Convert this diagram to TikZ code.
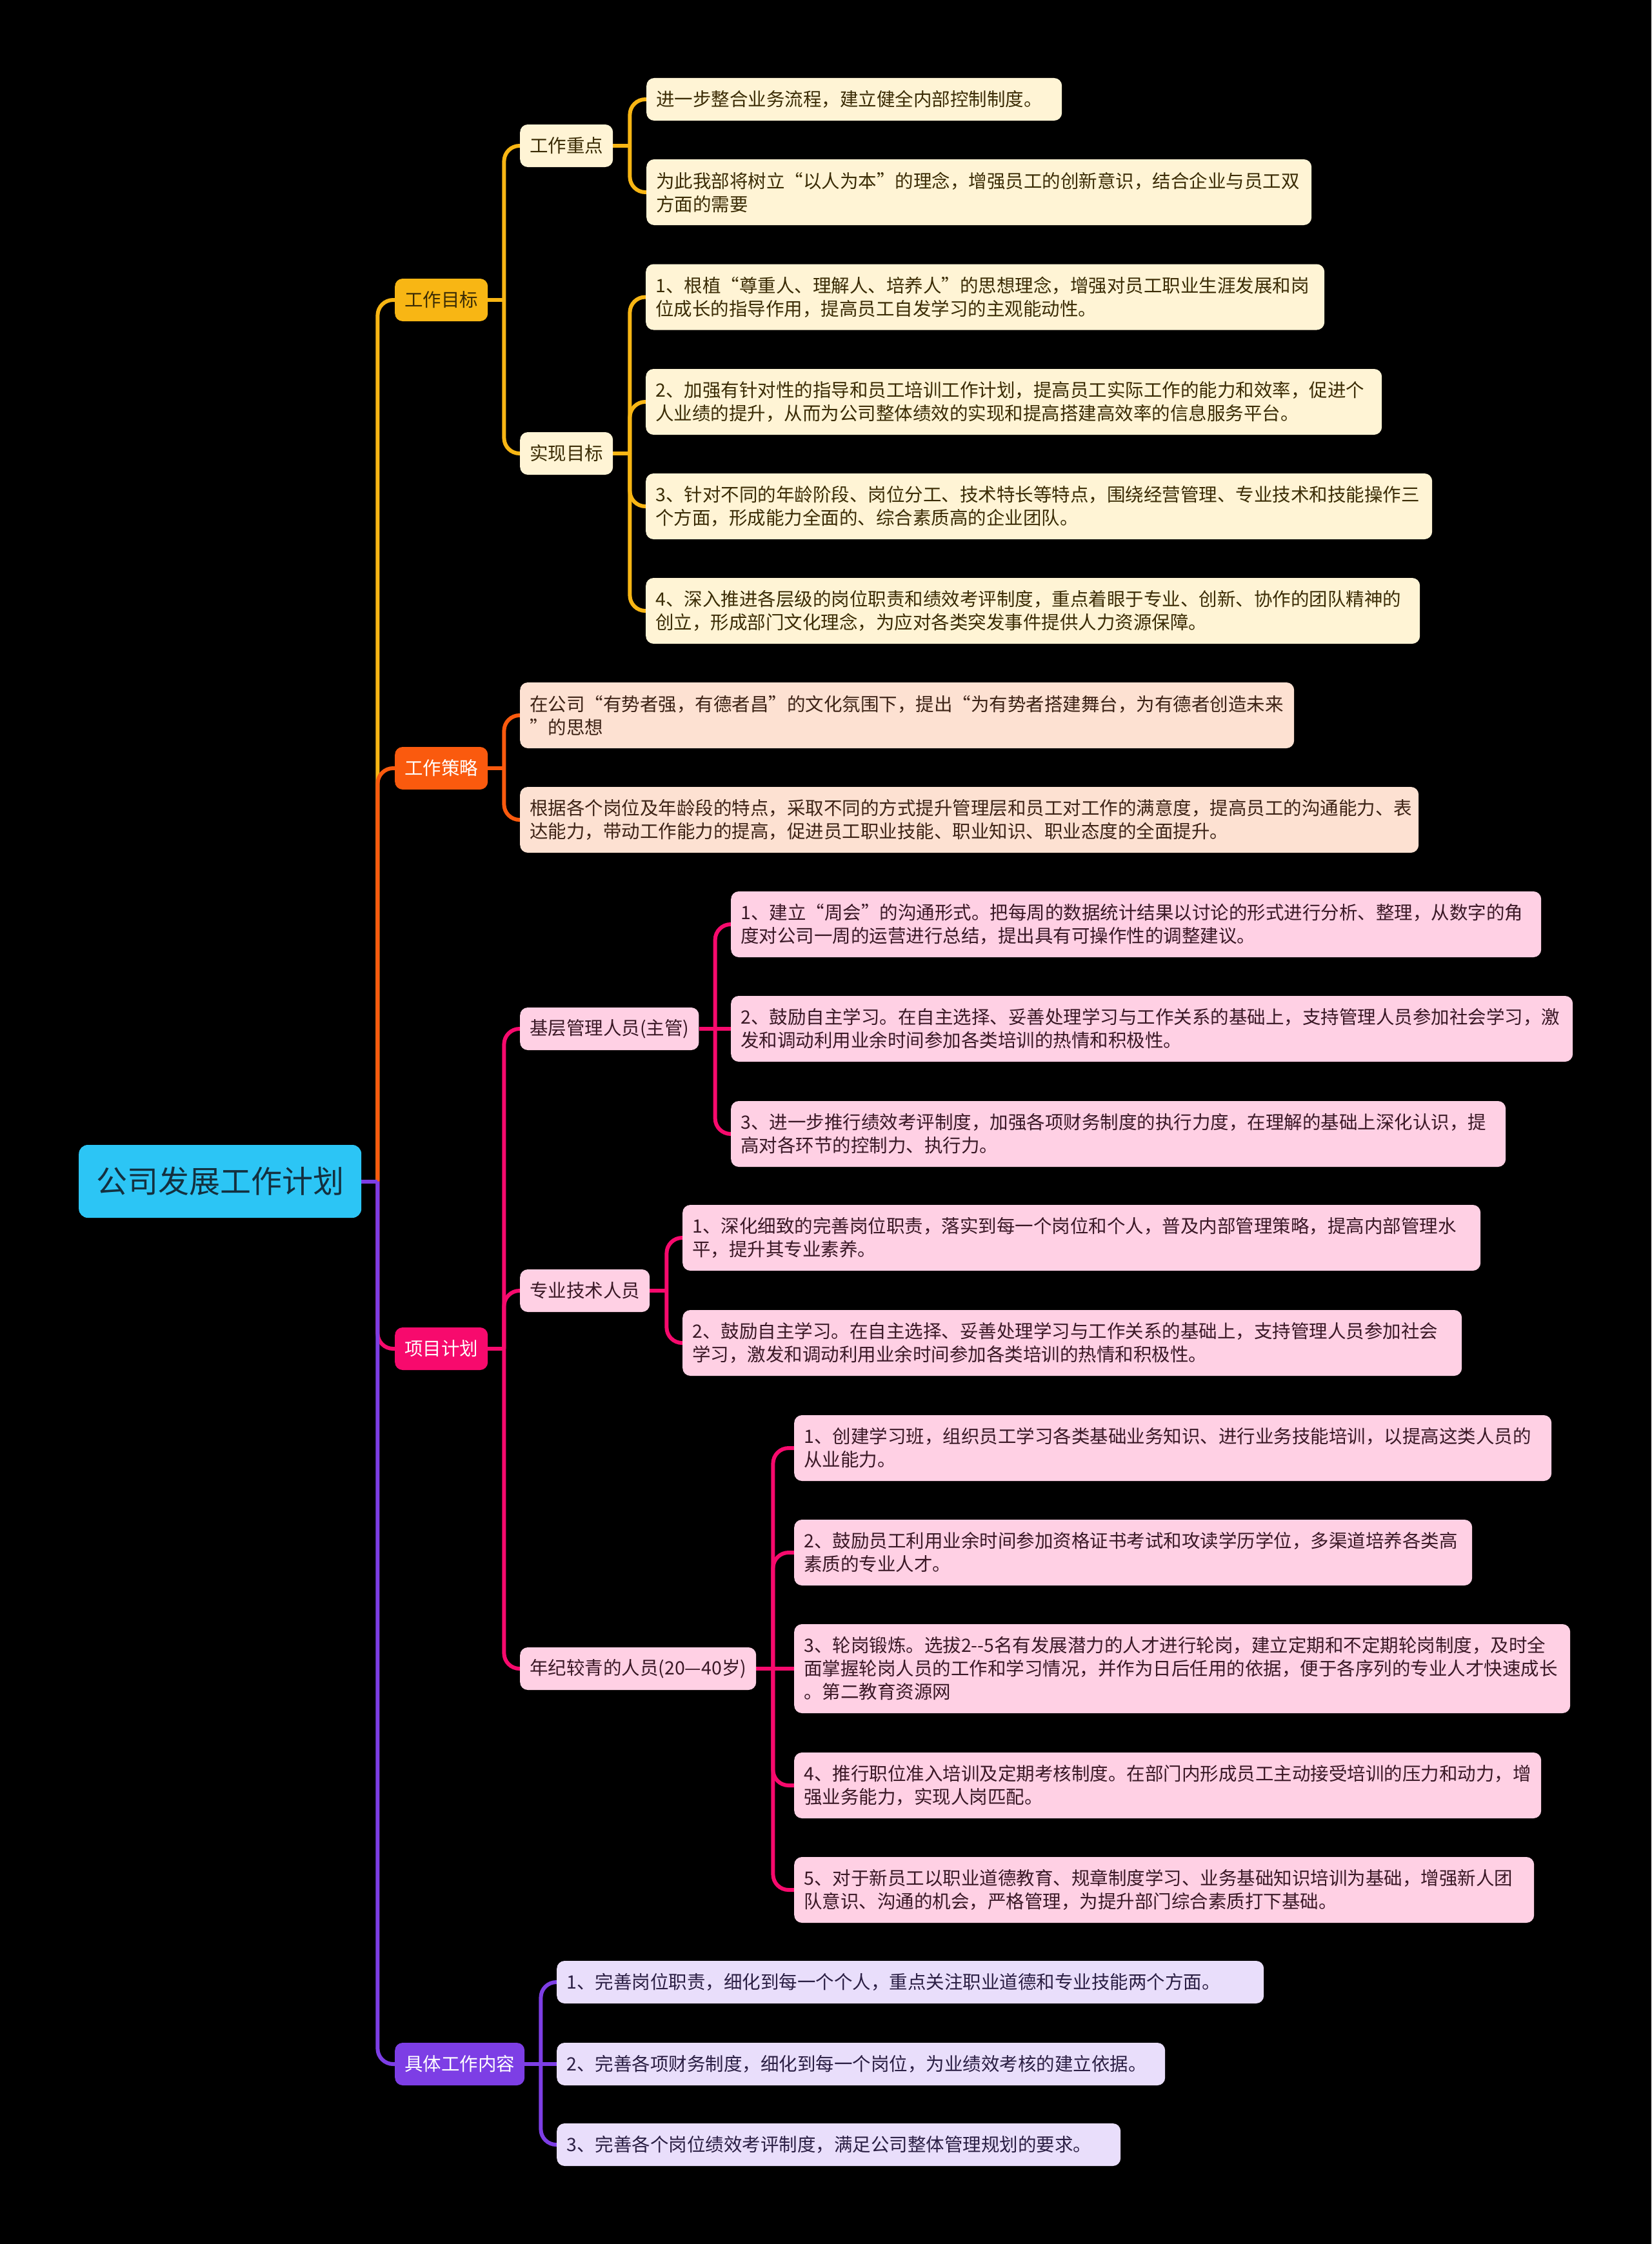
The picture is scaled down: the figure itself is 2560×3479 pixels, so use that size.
\documentclass[tikz,border=0pt]{standalone}
\usepackage{fontspec}
\newfontfamily\cjk{Noto Sans CJK SC}
\usetikzlibrary{backgrounds}
\definecolor{cyanR}{HTML}{2CC5F5}
\definecolor{rootT}{HTML}{14303F}
\definecolor{yel}{HTML}{F8B614}
\definecolor{yelL}{HTML}{FFF4D5}
\definecolor{yelT}{HTML}{3B2C05}
\definecolor{ora}{HTML}{FA5A0E}
\definecolor{oraL}{HTML}{FDE1D2}
\definecolor{oraT}{HTML}{3D2316}
\definecolor{pnk}{HTML}{F70A6D}
\definecolor{pnkL}{HTML}{FFD0E4}
\definecolor{pnkT}{HTML}{3A1826}
\definecolor{pur}{HTML}{7D3EE5}
\definecolor{purL}{HTML}{E9DEFB}
\definecolor{purT}{HTML}{2B1F44}
\begin{document}
\begin{tikzpicture}[x=1pt,y=-1pt,
  base/.style={rounded corners=12pt, inner xsep=15pt, inner ysep=0pt, anchor=west,
    font=\cjk\fontsize{28.5}{36}\selectfont},
  lone/.style={base, minimum height=66pt},
  leaf/.style={base, align=left, text width=#1},
  h1/.style={minimum height=66pt},
  h2/.style={minimum height=102pt},
  h3/.style={minimum height=138pt},
  rootbox/.style={anchor=west, fill=cyanR, text=rootT, rounded corners=14pt,
    minimum width=438pt, minimum height=113pt, inner sep=0pt,
    font=\cjk\fontsize{48}{56}\selectfont},
  yb/.style={fill=yelL, text=yelT},
  ob/.style={fill=oraL, text=oraT},
  pb/.style={fill=pnkL, text=pnkT},
  ub/.style={fill=purL, text=purT},
  ln/.style={line width=6pt, rounded corners=24pt}
]
\useasboundingbox (0,0) rectangle (2560,3479);

% root
\node[rootbox] (root) at (122,1831.5) {公司发展工作计划};

% level 1
\node[lone, fill=yel, text=yelT] (n1) at (612,465) {工作目标};
\node[lone, fill=ora, text=white] (n2) at (612,1191) {工作策略};
\node[lone, fill=pnk, text=white] (n3) at (612,2091) {项目计划};
\node[lone, fill=pur, text=white] (n4) at (612,3200) {具体工作内容};

% level 2
\node[lone, yb] (m1) at (806,226) {工作重点};
\node[lone, yb] (m2) at (806,703) {实现目标};
\node[lone, pb] (m3) at (806,1595) {基层管理人员(主管)};
\node[lone, pb] (m4) at (806,2001) {专业技术人员};
\node[lone, pb] (m5) at (806,2587) {年纪较青的人员(20—40岁)};

% 工作重点
\node[leaf=614pt, yb, h1] (A1) at (1002,154) {进一步整合业务流程，建立健全内部控制制度。};
\node[leaf=1001pt, yb, h2] (A2) at (1002,298) {为此我部将树立“以人为本”的理念，增强员工的创新意识，结合企业与员工双\\方面的需要};
% 实现目标
\node[leaf=1022pt, yb, h2] (B1) at (1001,460.5) {1、根植“尊重人、理解人、培养人”的思想理念，增强对员工职业生涯发展和岗\\位成长的指导作用，提高员工自发学习的主观能动性。};
\node[leaf=1111pt, yb, h2] (B2) at (1001,623) {2、加强有针对性的指导和员工培训工作计划，提高员工实际工作的能力和效率，促进个\\人业绩的提升，从而为公司整体绩效的实现和提高搭建高效率的信息服务平台。};
\node[leaf=1189pt, yb, h2] (B3) at (1001,785) {3、针对不同的年龄阶段、岗位分工、技术特长等特点，围绕经营管理、专业技术和技能操作三\\个方面，形成能力全面的、综合素质高的企业团队。};
\node[leaf=1170pt, yb, h2] (B4) at (1001,947) {4、深入推进各层级的岗位职责和绩效考评制度，重点着眼于专业、创新、协作的团队精神的\\创立，形成部门文化理念，为应对各类突发事件提供人力资源保障。};

% 工作策略
\node[leaf=1170pt, ob, h2] (C1) at (806,1109) {在公司“有势者强，有德者昌”的文化氛围下，提出“为有势者搭建舞台，为有德者创造未来\\”的思想};
\node[leaf=1363pt, ob, h2] (C2) at (806,1271) {根据各个岗位及年龄段的特点，采取不同的方式提升管理层和员工对工作的满意度，提高员工的沟通能力、表\\达能力，带动工作能力的提高，促进员工职业技能、职业知识、职业态度的全面提升。};

% 基层管理人员
\node[leaf=1226pt, pb, h2] (D1) at (1133,1433) {1、建立“周会”的沟通形式。把每周的数据统计结果以讨论的形式进行分析、整理，从数字的角\\度对公司一周的运营进行总结，提出具有可操作性的调整建议。};
\node[leaf=1275pt, pb, h2] (D2) at (1133,1595) {2、鼓励自主学习。在自主选择、妥善处理学习与工作关系的基础上，支持管理人员参加社会学习，激\\发和调动利用业余时间参加各类培训的热情和积极性。};
\node[leaf=1171pt, pb, h2] (D3) at (1133,1758) {3、进一步推行绩效考评制度，加强各项财务制度的执行力度，在理解的基础上深化认识，提\\高对各环节的控制力、执行力。};

% 专业技术人员
\node[leaf=1207pt, pb, h2] (E1) at (1058,1919) {1、深化细致的完善岗位职责，落实到每一个岗位和个人，普及内部管理策略，提高内部管理水\\平，提升其专业素养。};
\node[leaf=1178pt, pb, h2] (E2) at (1058,2082) {2、鼓励自主学习。在自主选择、妥善处理学习与工作关系的基础上，支持管理人员参加社会\\学习，激发和调动利用业余时间参加各类培训的热情和积极性。};

% 年纪较青的人员
\node[leaf=1144pt, pb, h2] (F1) at (1231,2245) {1、创建学习班，组织员工学习各类基础业务知识、进行业务技能培训，以提高这类人员的\\从业能力。};
\node[leaf=1021pt, pb, h2] (F2) at (1231,2407) {2、鼓励员工利用业余时间参加资格证书考试和攻读学历学位，多渠道培养各类高\\素质的专业人才。};
\node[leaf=1173pt, pb, h3] (F3) at (1231,2587) {3、轮岗锻炼。选拔2-{}-5名有发展潜力的人才进行轮岗，建立定期和不定期轮岗制度，及时全\\面掌握轮岗人员的工作和学习情况，并作为日后任用的依据，便于各序列的专业人才快速成长\\。第二教育资源网};
\node[leaf=1128pt, pb, h2] (F4) at (1231,2768) {4、推行职位准入培训及定期考核制度。在部门内形成员工主动接受培训的压力和动力，增\\强业务能力，实现人岗匹配。};
\node[leaf=1117pt, pb, h2] (F5) at (1231,2930) {5、对于新员工以职业道德教育、规章制度学习、业务基础知识培训为基础，增强新人团\\队意识、沟通的机会，严格管理，为提升部门综合素质打下基础。};

% 具体工作内容
\node[leaf=1066pt, ub, h1] (G1) at (863,3073) {1、完善岗位职责，细化到每一个个人，重点关注职业道德和专业技能两个方面。};
\node[leaf=913pt, ub, h1] (G2) at (863,3200) {2、完善各项财务制度，细化到每一个岗位，为业绩效考核的建立依据。};
\node[leaf=844pt, ub, h1] (G3) at (863,3325) {3、完善各个岗位绩效考评制度，满足公司整体管理规划的要求。};

% trunk points
\coordinate (t0) at ([xshift=25pt]root.east);
\coordinate (t1) at ([xshift=25pt]n1.east);
\coordinate (t2) at ([xshift=25pt]n2.east);
\coordinate (t3) at ([xshift=25pt]n3.east);
\coordinate (t4) at ([xshift=25pt]n4.east);
\coordinate (t11) at ([xshift=26pt]m1.east);
\coordinate (t12) at ([xshift=26pt]m2.east);
\coordinate (t31) at ([xshift=25pt]m3.east);
\coordinate (t32) at ([xshift=26pt]m4.east);
\coordinate (t33) at ([xshift=26pt]m5.east);

\begin{scope}[on background layer]
\fill[black] (0,0) rectangle (2560,3479);
% level 1
\draw[ln, yel] (t0) |- (n1.west);
\draw[ln, ora] (t0) |- (n2.west);
\draw[ln, pnk] (t0) |- (n3.west);
\draw[ln, pur] (t0) |- (n4.west);
\draw[ln, pur] (root.east) -- (t0);
% 工作目标
\draw[ln, yel] (n1.east) -- (t1);
\draw[ln, yel] (t1) |- (m1.west);
\draw[ln, yel] (t1) |- (m2.west);
\draw[ln, yel] (m1.east) -- (t11);
\draw[ln, yel] (t11) |- (A1.west);
\draw[ln, yel] (t11) |- (A2.west);
\draw[ln, yel] (m2.east) -- (t12);
\draw[ln, yel] (t12) |- (B1.west);
\draw[ln, yel] (t12) |- (B2.west);
\draw[ln, yel] (t12) |- (B3.west);
\draw[ln, yel] (t12) |- (B4.west);
% 工作策略
\draw[ln, ora] (n2.east) -- (t2);
\draw[ln, ora] (t2) |- (C1.west);
\draw[ln, ora] (t2) |- (C2.west);
% 项目计划
\draw[ln, pnk] (n3.east) -- (t3);
\draw[ln, pnk] (t3) |- (m3.west);
\draw[ln, pnk] (t3) |- (m4.west);
\draw[ln, pnk] (t3) |- (m5.west);
\draw[ln, pnk] (m3.east) -- (D2.west);
\draw[ln, pnk] (t31) |- (D1.west);
\draw[ln, pnk] (t31) |- (D3.west);
\draw[ln, pnk] (m4.east) -- (t32);
\draw[ln, pnk] (t32) |- (E1.west);
\draw[ln, pnk] (t32) |- (E2.west);
\draw[ln, pnk] (m5.east) -- (F3.west);
\draw[ln, pnk] (t33) |- (F1.west);
\draw[ln, pnk] (t33) |- (F2.west);
\draw[ln, pnk] (t33) |- (F4.west);
\draw[ln, pnk] (t33) |- (F5.west);
% 具体工作内容
\draw[ln, pur] (n4.east) -- (G2.west);
\draw[ln, pur] (t4) |- (G1.west);
\draw[ln, pur] (t4) |- (G3.west);
\end{scope}
\end{tikzpicture}
\end{document}
